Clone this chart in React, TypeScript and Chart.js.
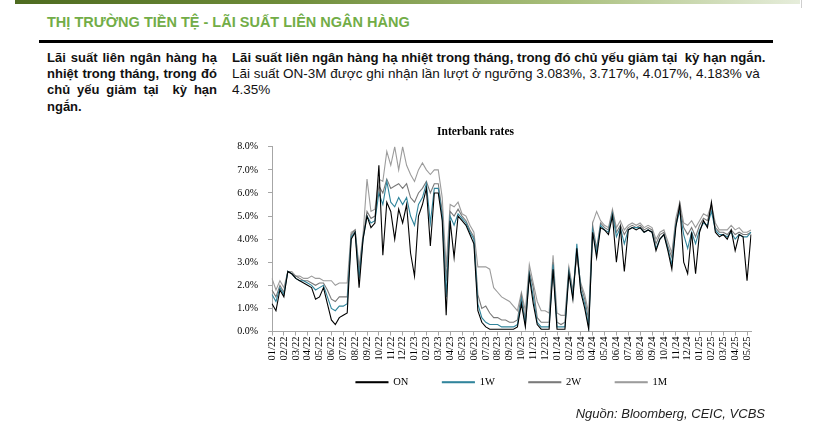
import React, { useEffect, useRef } from 'react';
import { Chart, registerables } from 'chart.js';

Chart.register(...registerables);

// month tick labels (one tick per month, 3 readings per month)
const months = [
  '01/22', '02/22', '03/22', '04/22', '05/22', '06/22', '07/22', '08/22', '09/22', '10/22', '11/22', '12/22',
  '01/23', '02/23', '03/23', '04/23', '05/23', '06/23', '07/23', '08/23', '09/23', '10/23', '11/23', '12/23',
  '01/24', '02/24', '03/24', '04/24', '05/24', '06/24', '07/24', '08/24', '09/24', '10/24', '11/24', '12/24',
  '01/25', '02/25', '03/25', '04/25', '05/25',
];

const seriesNames = ['ON', '1W', '2W', '1M'];

// interbank rates, % (early / mid / late of each month), 4 months per row
const onRate = [
  1.2, 0.9, 1.8, 1.5, 2.6, 2.5, 2.3, 2.2, 2.1, 2.0, 1.9, 1.4,
  1.5, 1.9, 1.2, 0.5, 0.3, 0.6, 0.7, 0.8, 4.0, 4.3, 1.9, 4.0,
  5.0, 4.5, 4.7, 7.2, 3.3, 5.6, 5.2, 4.0, 5.3, 4.7, 5.5, 3.4,
  2.4, 5.0, 5.5, 6.2, 3.7, 6.0, 6.0, 4.8, 0.7, 4.8, 3.2, 5.0,
  4.8, 4.6, 4.2, 3.8, 0.9, 0.4, 0.2, 0.1, 0.1, 0.1, 0.1, 0.1,
  0.1, 0.1, 0.2, 1.2, 0.2, 2.4, 1.2, 0.3, 0.1, 0.1, 0.1, 2.7,
  0.1, 0.1, 0.1, 2.5, 1.4, 3.6, 1.7, 1.0, 0.1, 4.3, 3.2, 4.5,
  4.4, 4.2, 5.0, 3.0, 4.5, 2.6, 4.4, 4.5, 4.4, 4.5, 4.3, 4.4,
  4.3, 3.5, 4.0, 4.2, 3.5, 2.7, 4.5, 5.5, 3.0, 2.5, 4.3, 2.5,
  4.3, 4.8, 4.5, 5.6, 4.3, 4.1, 4.2, 4.0, 4.4, 3.5, 4.2, 4.1,
  2.2, 4.2,
];

const w1Rate = [
  1.6, 1.3, 1.9, 1.6, 2.6, 2.5, 2.3, 2.2, 2.2, 2.1, 2.0, 1.8,
  1.9, 2.0, 1.5, 1.0, 0.9, 1.1, 1.1, 1.2, 4.1, 4.3, 2.3, 4.0,
  5.0, 4.7, 4.8, 6.0, 5.5, 6.5, 5.6, 5.4, 5.8, 5.5, 5.8, 5.0,
  4.6, 5.5, 5.8, 6.4, 4.7, 6.2, 6.2, 5.0, 1.5, 5.0, 4.6, 5.1,
  4.9, 4.7, 4.3, 4.0, 1.2, 0.6, 0.4, 0.3, 0.3, 0.3, 0.2, 0.2,
  0.2, 0.2, 0.3, 1.4, 0.3, 2.5, 1.5, 0.4, 0.2, 0.2, 0.2, 2.9,
  0.2, 0.2, 0.2, 2.6, 1.5, 3.8, 1.8, 1.2, 0.2, 4.4, 3.4, 4.6,
  4.4, 4.3, 5.1, 4.1, 4.5, 3.8, 4.4, 4.5, 4.5, 4.5, 4.3, 4.4,
  4.3, 3.6, 4.0, 4.2, 3.6, 2.9, 4.6, 5.2, 4.2, 3.6, 4.3, 3.8,
  4.4, 4.7, 4.6, 5.2, 4.4, 4.2, 4.2, 4.1, 4.3, 4.0, 4.2, 4.1,
  4.1, 4.3,
];

const w2Rate = [
  1.8, 1.5, 2.0, 1.7, 2.6, 2.5, 2.4, 2.3, 2.2, 2.2, 2.1, 2.0,
  2.1, 2.1, 1.8, 1.4, 1.3, 1.5, 1.5, 1.5, 4.2, 4.4, 2.6, 4.1,
  5.2, 4.9, 5.0, 6.3, 6.0, 6.6, 6.2, 6.3, 6.4, 6.2, 6.4, 5.8,
  5.6, 6.0, 6.2, 6.5, 6.0, 6.4, 6.4, 5.2, 2.2, 5.2, 5.0, 5.3,
  5.0, 4.8, 4.4, 4.1, 1.6, 1.0, 1.1, 0.8, 0.6, 0.6, 0.5, 0.5,
  0.4, 0.4, 0.5, 1.6, 0.5, 2.6, 1.9, 0.6, 0.4, 0.4, 0.4, 3.0,
  0.4, 0.3, 0.4, 2.7, 1.7, 3.4, 2.0, 1.4, 0.5, 4.6, 3.6, 4.7,
  4.5, 4.4, 5.2, 4.3, 4.6, 4.2, 4.5, 4.6, 4.5, 4.6, 4.4, 4.5,
  4.4, 3.8, 4.2, 4.3, 3.7, 3.2, 4.7, 5.4, 4.5, 4.2, 4.5, 4.1,
  4.6, 4.9, 4.8, 5.4, 4.5, 4.3, 4.3, 4.2, 4.4, 4.2, 4.3, 4.2,
  4.2, 4.3,
];

const m1Rate = [
  2.3, 1.8, 2.2, 1.9, 2.6, 2.6, 2.4, 2.4, 2.3, 2.3, 2.4, 2.3,
  2.3, 2.2, 2.2, 2.2, 2.0, 2.1, 2.1, 2.1, 4.3, 4.4, 2.8, 4.2,
  6.6, 5.2, 5.3, 6.6, 6.5, 7.8, 7.2, 8.0, 7.0, 8.0, 7.2, 6.8,
  6.5, 7.0, 7.3, 7.0, 6.8, 7.0, 7.0, 5.8, 2.8, 5.5, 5.4, 5.6,
  5.1, 5.0, 4.6, 4.3, 2.8, 2.8, 2.8, 2.7, 1.9, 1.7, 1.5, 1.4,
  1.3, 1.1, 0.9, 1.7, 0.9, 2.9, 2.1, 1.3, 0.9, 0.9, 0.8, 3.3,
  0.8, 0.7, 0.7, 2.8, 1.8, 3.2, 2.1, 1.6, 0.8, 4.7, 5.2, 4.8,
  4.6, 4.5, 5.3, 4.5, 4.8, 4.4, 4.6, 4.7, 4.6, 4.7, 4.5, 4.6,
  4.5, 4.0, 4.3, 4.4, 3.9, 3.4, 4.9, 5.6, 4.7, 4.6, 4.8, 4.5,
  4.8, 5.1, 5.0, 5.5, 4.7, 4.4, 4.4, 4.4, 4.6, 4.4, 4.5, 4.3,
  4.3, 4.4,
];

const seriesColors = ['#000000', '#31859c', '#7a7a7a', '#9c9c9c'];

const serif = '"Liberation Serif", "Times New Roman", serif';
const sans = '"Liberation Sans", Arial, sans-serif';

// the legend keeps wide gaps between items, but sits closer to the axis labels
const legendLift = {
  id: 'legendLift',
  afterLayout(chart: any) {
    const legend = chart.legend;
    if (!legend) return;
    legend.top -= 24.5;
    legend.bottom -= 24.5;
  },
};

const InterbankChart: React.FC = () => {
  const canvasRef = useRef<HTMLCanvasElement>(null);

  useEffect(() => {
    if (!canvasRef.current) return;
    const values = [onRate, w1Rate, w2Rate, m1Rate];

    const chart = new Chart(canvasRef.current, {
      type: 'line',
      data: {
        labels: onRate.map((_, i) => months[Math.floor(i / 3)]),
        datasets: seriesNames.map((name, k) => ({
          label: name,
          data: values[k],
          borderColor: seriesColors[k],
          backgroundColor: seriesColors[k],
          borderWidth: 1.1,
          pointRadius: 0,
          tension: 0,
        })),
      },
      options: {
        animation: false,
        responsive: true,
        maintainAspectRatio: false,
        layout: { padding: { left: 0, right: 34, top: 0, bottom: 0 } },
        plugins: {
          title: {
            display: true,
            text: 'Interbank rates',
            color: '#000',
            font: { family: serif, size: 11.5, weight: 'bold' },
            padding: { top: 3, bottom: 8 },
          },
          legend: {
            position: 'bottom',
            fullSize: false,
            labels: {
              boxWidth: 32,
              boxHeight: 1,
              padding: 34,
              color: '#000',
              font: { family: serif, size: 10.5 },
            },
          },
          tooltip: { enabled: false },
        },
        scales: {
          x: {
            type: 'category',
            offset: false,
            afterBuildTicks: (scale: any) => {
              // one tick per month
              scale.ticks = scale.ticks.filter((t: any) => t.value % 3 === 0);
            },
            afterFit: (scale: any) => {
              scale.height = 36;
            },
            grid: { drawOnChartArea: false, drawTicks: true, tickLength: 4, color: '#a6a6a6' },
            border: { color: '#a6a6a6' },
            ticks: {
              autoSkip: false,
              minRotation: 90,
              maxRotation: 90,
              padding: 1,
              color: '#000',
              font: { family: serif, size: 10.5 },
            },
          },
          y: {
            min: 0,
            max: 8,
            afterFit: (scale: any) => {
              scale.width = 72;
            },
            grid: { drawOnChartArea: false, drawTicks: true, tickLength: 4, color: '#a6a6a6' },
            border: { color: '#a6a6a6' },
            ticks: {
              stepSize: 1,
              padding: 10,
              color: '#000',
              font: { family: serif, size: 10 },
              callback: (v: any) => Number(v).toFixed(1) + '%',
            },
          },
        },
      },
      plugins: [legendLift],
    });

    return () => {
      chart.destroy();
    };
  }, []);

  return <canvas ref={canvasRef}></canvas>;
};

const lineStyle = (top: number, extra: React.CSSProperties = {}): React.CSSProperties => ({
  position: 'absolute',
  top,
  whiteSpace: 'pre-wrap',
  lineHeight: '16.4px',
  fontSize: 13.3,
  color: '#111',
  ...extra,
});

export default function App() {
  const leftLines = ['Lãi suất liên ngân hàng hạ', 'nhiệt trong tháng, trong đó', 'chủ yếu giảm tại  kỳ hạn', 'ngắn.'];

  return (
    <div
      style={{
        position: 'absolute',
        left: 0,
        top: 0,
        width: 814,
        height: 427,
        overflow: 'hidden',
        background: '#fff',
        fontFamily: sans,
      }}
    >
      {/* Header band */}
      <div
        style={{
          position: 'absolute',
          left: 15,
          top: 0,
          width: 785,
          height: 3.5,
          background: 'linear-gradient(90deg, #4e6b20 0%, #6f8d3a 35%, #a9bf7c 70%, #e6eddb 100%)',
        }}
      />
      <div style={{ position: 'absolute', left: 801, top: 0, width: 1, height: 8, background: '#cfcfcf' }} />

      <div
        style={{
          position: 'absolute',
          left: 47,
          top: 14.2,
          lineHeight: '17px',
          fontSize: 14.5,
          fontWeight: 700,
          color: '#72ad47',
          whiteSpace: 'nowrap',
        }}
      >
        THỊ TRƯỜNG TIỀN TỆ - LÃI SUẤT LIÊN NGÂN HÀNG
      </div>
      <div style={{ position: 'absolute', left: 39, top: 40, width: 734, height: 2.5, background: '#000' }} />

      {/* Left summary */}
      {leftLines.map((t, i) => (
        <div
          key={i}
          style={lineStyle(49.6 + i * 16.4, {
            left: 47,
            width: 170,
            fontSize: 13,
            fontWeight: 700,
            textAlign: 'justify',
            textAlignLast: i < leftLines.length - 1 ? 'justify' : 'left',
          })}
        >
          {t}
        </div>
      ))}

      {/* Right text */}
      <div style={lineStyle(49.6, { left: 232, fontWeight: 700, fontSize: 13.2 })}>
        Lãi suất liên ngân hàng hạ nhiệt trong tháng, trong đó chủ yếu giảm tại  kỳ hạn ngắn.
      </div>
      <div style={lineStyle(49.6 + 16.4, { left: 232, fontSize: 13.5 })}>
        Lãi suất ON-3M được ghi nhận lần lượt ở ngưỡng 3.083%, 3.717%, 4.017%, 4.183% và
      </div>
      <div style={lineStyle(49.6 + 32.8, { left: 232, fontSize: 13.5 })}>4.35%</div>

      {/* Chart */}
      <div style={{ position: 'absolute', left: 200, top: 122, width: 585, height: 300 }}>
        <InterbankChart />
      </div>

      <div
        style={{
          position: 'absolute',
          right: 49,
          top: 406,
          lineHeight: '16px',
          fontSize: 13,
          fontStyle: 'italic',
          color: '#222',
          whiteSpace: 'nowrap',
        }}
      >
        Nguồn: Bloomberg, CEIC, VCBS
      </div>
    </div>
  );
}
